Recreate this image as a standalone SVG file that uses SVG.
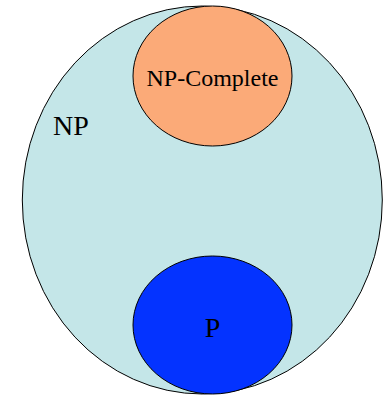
<svg xmlns="http://www.w3.org/2000/svg" width="385" height="396" viewBox="0 0 385 396">
<style>
.s{stroke:#000;stroke-width:1}
.t{font-family:"Liberation Serif","Times New Roman",serif;font-size:24px;fill:#000}
.b{font-size:28px}
</style>
<rect width="385" height="396" fill="#fff"/>
<g id="np">
<ellipse class="s" cx="202.3" cy="200" rx="180" ry="194" fill="#C4E6E8"/>
<text class="t b" x="53" y="135">NP</text>
</g>
<g id="npc">
<ellipse class="s" cx="212.5" cy="76" rx="79.5" ry="70" fill="#FBAA78"/>
<text class="t" x="212.5" y="86" text-anchor="middle">NP-Complete</text>
</g>
<g id="p">
<ellipse class="s" cx="212.5" cy="325" rx="79.5" ry="69" fill="#0433FF"/>
<text class="t b" x="212.5" y="337" text-anchor="middle">P</text>
</g>
<g id="connectors"/>
</svg>
